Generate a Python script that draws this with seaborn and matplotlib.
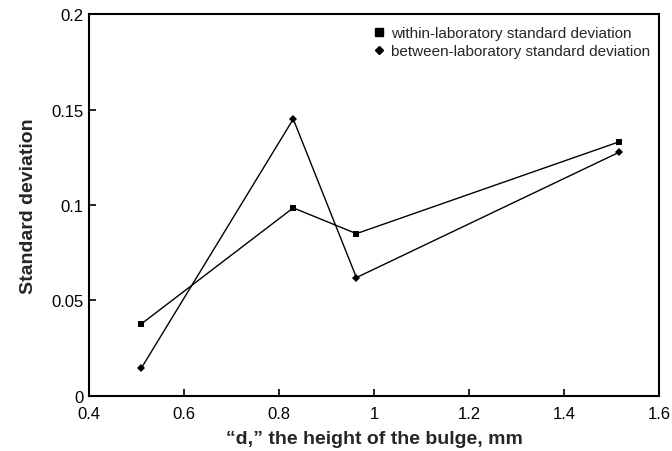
import matplotlib
matplotlib.use("Agg")
import matplotlib.pyplot as plt
from matplotlib.lines import Line2D
import seaborn as sns
import pandas as pd

# Bulge height d (mm) and the two standard deviations
bulge_height = [0.51, 0.83, 0.963, 1.515]
within_sd = [0.0377, 0.0985, 0.085, 0.133]
between_sd = [0.0145, 0.145, 0.062, 0.1275]

series_names = ["within-laboratory standard deviation",
                "between-laboratory standard deviation"]

x_ticks = [0.4, 0.6, 0.8, 1, 1.2, 1.4, 1.6]
x_tick_labels = ["0.4", "0.6", "0.8", "1", "1.2", "1.4", "1.6"]
y_ticks = [0, 0.05, 0.1, 0.15, 0.2]
y_tick_labels = ["0", "0.05", "0.1", "0.15", "0.2"]

sns.set_theme(style="white")
plt.rcParams["font.family"] = ["Liberation Sans", "DejaVu Sans"]

df = pd.DataFrame({
    "d": bulge_height * 2,
    "sd": within_sd + between_sd,
    "series": [series_names[0]] * 4 + [series_names[1]] * 4,
})

fig = plt.figure(figsize=(6.72, 4.52), dpi=100)
ax = fig.add_axes([0.1324, 0.1217, 0.8483, 0.8451])

sns.lineplot(data=df, x="d", y="sd", hue="series", style="series",
             markers={series_names[0]: "s", series_names[1]: "D"},
             dashes=False, palette={series_names[0]: "black", series_names[1]: "black"},
             markersize=4.5, linewidth=1.0, markeredgewidth=0,
             sort=False, legend=False, ax=ax)

ax.set_xlim(0.4, 1.6)
ax.set_ylim(0, 0.2)
ax.set_xticks(x_ticks)
ax.set_xticklabels(x_tick_labels)
ax.set_yticks(y_ticks)
ax.set_yticklabels(y_tick_labels)
ax.tick_params(axis="both", direction="in", length=5, width=1.2, labelsize=12,
               colors="black", bottom=True, left=True, top=False, right=False)
ax.tick_params(axis="x", pad=7.5)
ax.tick_params(axis="y", pad=4)
for sp in ax.spines.values():
    sp.set_color("black")
    sp.set_linewidth(1.5)

ax.set_xlabel("\u201cd,\u201d the height of the bulge, mm", fontsize=14,
              fontweight="bold", labelpad=6)
ax.set_ylabel("Standard deviation", fontsize=14, fontweight="bold", labelpad=10)

handles = [Line2D([], [], color="black", marker="s", linestyle="none", markersize=6),
           Line2D([], [], color="black", marker="D", linestyle="none", markersize=4.5)]
ax.legend(handles, series_names, loc="upper right", frameon=False, fontsize=11,
          handletextpad=0.4, borderaxespad=0.0, borderpad=0.4,
          labelspacing=0.3, handlelength=0.8,
          bbox_to_anchor=(0.995, 0.985))

fig.savefig("out.png", dpi=100)
